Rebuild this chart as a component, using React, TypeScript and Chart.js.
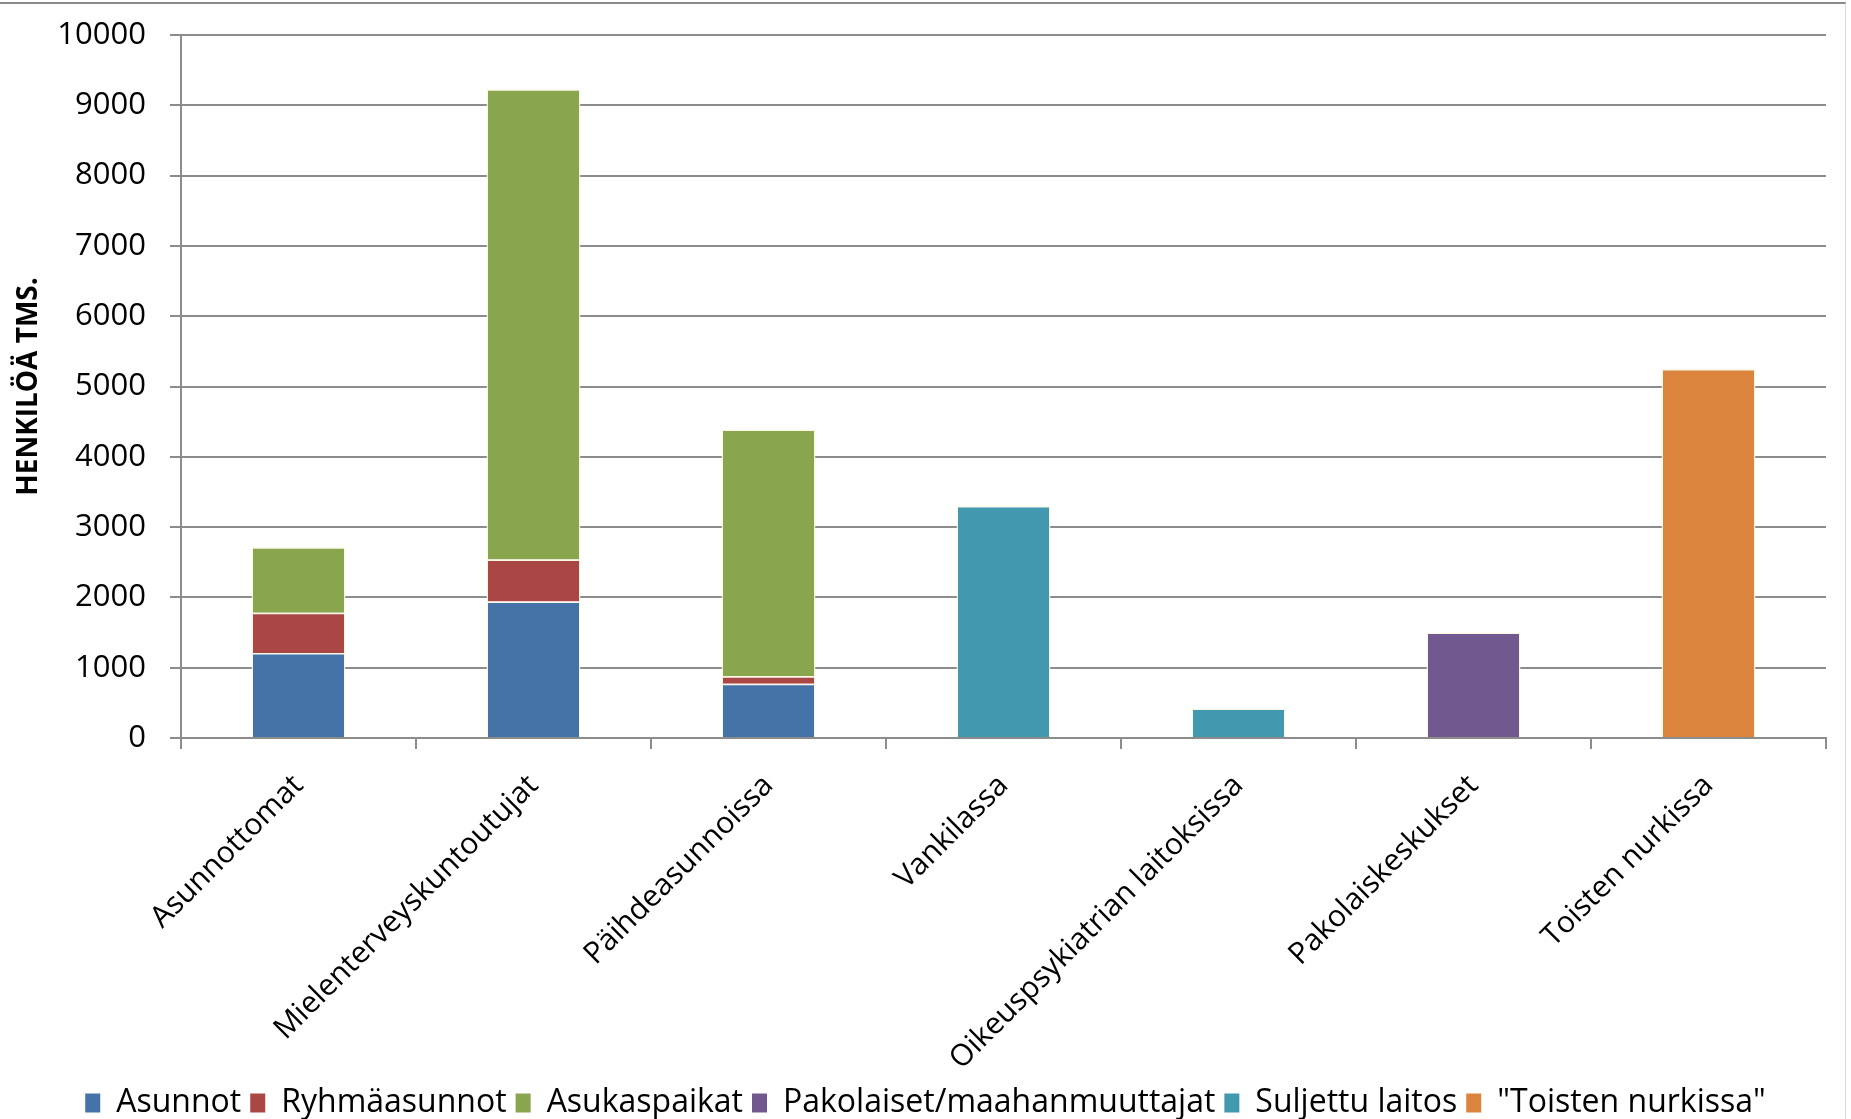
import React, { useEffect, useRef } from "react";
import { Chart, registerables } from "chart.js";

Chart.register(...registerables);

const categories = [
  "Asunnottomat",
  "Mielenterveyskuntoutujat",
  "Päihdeasunnoissa",
  "Vankilassa",
  "Oikeuspsykiatrian laitoksissa",
  "Pakolaiskeskukset",
  "Toisten nurkissa",
];

const asunnot = [1210, 1940, 770, null, null, null, null];
const ryhmaasunnot = [570, 600, 110, null, null, null, null];
const asukaspaikat = [935, 6690, 3510, null, null, null, null];
const pakolaiset = [null, null, null, null, null, 1500, null];
const suljettuLaitos = [null, null, null, 3300, 420, null, null];
const toistenNurkissa = [null, null, null, null, null, null, 5250];

const seriesNames = [
  "Asunnot",
  "Ryhmäasunnot",
  "Asukaspaikat",
  "Pakolaiset/maahanmuuttajat",
  "Suljettu laitos",
  '"Toisten nurkissa"',
];
const seriesColors = ["#4572a7", "#aa4644", "#89a54e", "#71588f", "#4198af", "#db843d"];

const yTitle = "HENKILÖÄ TMS.";
const yMin = 0;
const yMax = 10000;
const yStep = 1000;

const FONT = "'Open Sans', 'Noto Sans', sans-serif";

export default function App() {
  const ref = useRef<HTMLCanvasElement | null>(null);

  useEffect(() => {
    if (!ref.current) return;
    const values = [asunnot, ryhmaasunnot, asukaspaikat, pakolaiset, suljettuLaitos, toistenNurkissa];
    const chart = new Chart(ref.current, {
      type: "bar",
      data: {
        labels: categories,
        datasets: values.map((v, i) => ({
          label: seriesNames[i],
          data: v,
          backgroundColor: seriesColors[i],
          borderColor: "rgba(250,246,225,0.9)",
          borderWidth: 1.5,
          categoryPercentage: 1,
          barPercentage: 0.4,
        })),
      },
      options: {
        animation: false,
        responsive: false,
        devicePixelRatio: 1,
        layout: { padding: { top: 35, right: 0, left: 0, bottom: -10 } },
        plugins: {
          tooltip: { enabled: false },
          legend: {
            position: "bottom",
            labels: {
              color: "#000",
              font: { family: FONT, size: 32 },
              boxWidth: 15,
              boxHeight: 19,
              padding: 9,
              generateLabels: (c: any) =>
                Chart.defaults.plugins.legend.labels
                  .generateLabels(c)
                  .map((l: any) => ({ ...l, lineWidth: 0, strokeStyle: "rgba(0,0,0,0)" })),
            },
          },
        },
        scales: {
          x: {
            stacked: true,
            grid: {
              offset: true,
              drawOnChartArea: false,
              drawTicks: true,
              tickLength: 11,
              color: "#8c8c8c",
              lineWidth: 2,
            },
            border: { display: true, color: "#8c8c8c", width: 2 },
            ticks: {
              autoSkip: false,
              maxRotation: 45,
              minRotation: 45,
              color: "#000",
              padding: 19,
              font: { family: FONT, size: 30 },
            },
            afterFit: (s: any) => {
              s.height = 340;
              s.paddingRight = 25;
              s.paddingLeft = 0;
            },
          },
          y: {
            stacked: true,
            min: yMin,
            max: yMax,
            ticks: {
              stepSize: yStep,
              color: "#000",
              padding: 24,
              font: { family: FONT, size: 31 },
              callback: (v: any) => String(v),
            },
            grid: {
              color: "#8c8c8c",
              lineWidth: 2,
              tickLength: 11,
            },
            border: { display: true, color: "#8c8c8c", width: 2 },
            title: {
              display: true,
              text: yTitle,
              color: "#000",
              font: { family: FONT, size: 28, weight: "bold" },
              padding: { top: 12, bottom: 0 },
            },
            afterFit: (s: any) => {
              s.width = 181;
              s.paddingTop = 0;
              s.paddingBottom = 0;
            },
          },
        },
      },
    });
    return () => chart.destroy();
  }, []);

  return (
    <div style={{ position: "absolute", left: 0, top: 0, width: 1851, height: 1119, overflow: "hidden", background: "#fff" }}>
      <div
        style={{
          position: "absolute",
          left: -4,
          top: 2,
          width: 1850,
          height: 1200,
          borderTop: "2px solid #8a8a8a",
          borderRight: "1px solid #d9d9d9",
          boxSizing: "border-box",
        }}
      />
      <canvas ref={ref} width={1851} height={1119} style={{ position: "absolute", left: 0, top: 0 }} />
    </div>
  );
}
